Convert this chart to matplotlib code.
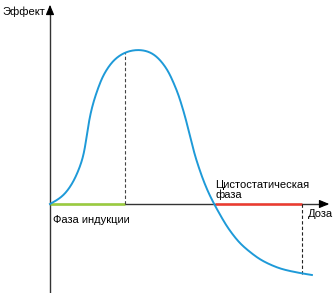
import numpy as np
import matplotlib
matplotlib.use("Agg")
import matplotlib.pyplot as plt

plt.rcParams['font.family'] = ['Liberation Sans', 'DejaVu Sans']

# curve (dose, effect)
dose = [0, 13, 23, 30, 33.5, 36, 38.5, 41, 44, 47, 53, 63, 74, 87, 100, 108, 118,
        128, 135, 140, 145, 152, 158, 164, 177, 190, 210, 230, 252, 262]
effect = [0, 7, 21, 37, 48, 63, 80, 93, 104, 113, 129, 144, 152, 155, 153, 147, 134,
          111, 88, 68, 48, 27, 12, 0, -23, -40, -56, -65, -69.5, -71]

induction_end = 75
cyto_start, cyto_end = 165, 252
peak_effect = 152
end_effect = -69.5

labels = {"y": "Эффект", "x": "Доза", "ind": "Фаза индукции", "cyto": "Цистостатическая\nфаза"}

fig = plt.figure(figsize=(3.34, 2.93), dpi=100)
ax = fig.add_axes([0, 0, 1, 1])
ax.set_xlim(-50, 284)
ax.set_ylim(-89, 204)
ax.axis('off')

axc = '#333333'
ax.plot([0, 0], [-89, 194], color=axc, lw=1.0)
ax.plot([0, 276], [0, 0], color=axc, lw=1.0)
ax.annotate('', xy=(0, 202), xytext=(0, 190),
            arrowprops=dict(arrowstyle='-|>,head_length=0.6,head_width=0.25', color='black', lw=0.8))
ax.annotate('', xy=(282, 0), xytext=(270, 0),
            arrowprops=dict(arrowstyle='-|>,head_length=0.6,head_width=0.25', color='black', lw=0.8))

ax.plot([0, induction_end], [0, 0], color='#9acd3c', lw=1.8, solid_capstyle='butt')
ax.plot([cyto_start, cyto_end], [0, 0], color='#ee3a2f', lw=1.8, solid_capstyle='butt')

ax.plot([induction_end, induction_end], [0, peak_effect], color='#444444', lw=0.8, ls=(0, (3, 2)))
ax.plot([cyto_end, cyto_end], [0, end_effect], color='#222222', lw=0.8, ls=(0, (3, 2)))

# smooth the drawn polyline: resample along arc length, then Gaussian filter
P = np.column_stack([dose, effect]).astype(float)
seg = np.r_[0, np.cumsum(np.hypot(*np.diff(P, axis=0).T))]
s = np.arange(0, seg[-1], 0.5)
D = np.column_stack([np.interp(s, seg, P[:, 0]), np.interp(s, seg, P[:, 1])])
sigma = 7.0 / 0.5
n = int(3 * sigma)
pad_lo = 2 * D[0] - D[1:n + 1][::-1]
pad_hi = 2 * D[-1] - D[-n - 1:-1][::-1]
E = np.vstack([pad_lo, D, pad_hi])
k = np.exp(-0.5 * (np.arange(-n, n + 1) / sigma) ** 2)
k /= k.sum()
sx = np.convolve(E[:, 0], k, mode='valid')
sy = np.convolve(E[:, 1], k, mode='valid')
ax.plot(sx, sy, color='#1e9ad8', lw=1.4)

fs = 8
ax.text(-48, 192, labels["y"], fontsize=fs, va='center', ha='left')
ax.text(258, -10, labels["x"], fontsize=fs, va='center', ha='left')
ax.text(3, -16, labels["ind"], fontsize=fs, va='center', ha='left')
ax.text(165, 14, labels["cyto"], fontsize=fs, va='center', ha='left', linespacing=0.95)

fig.savefig('out.png', dpi=100)
